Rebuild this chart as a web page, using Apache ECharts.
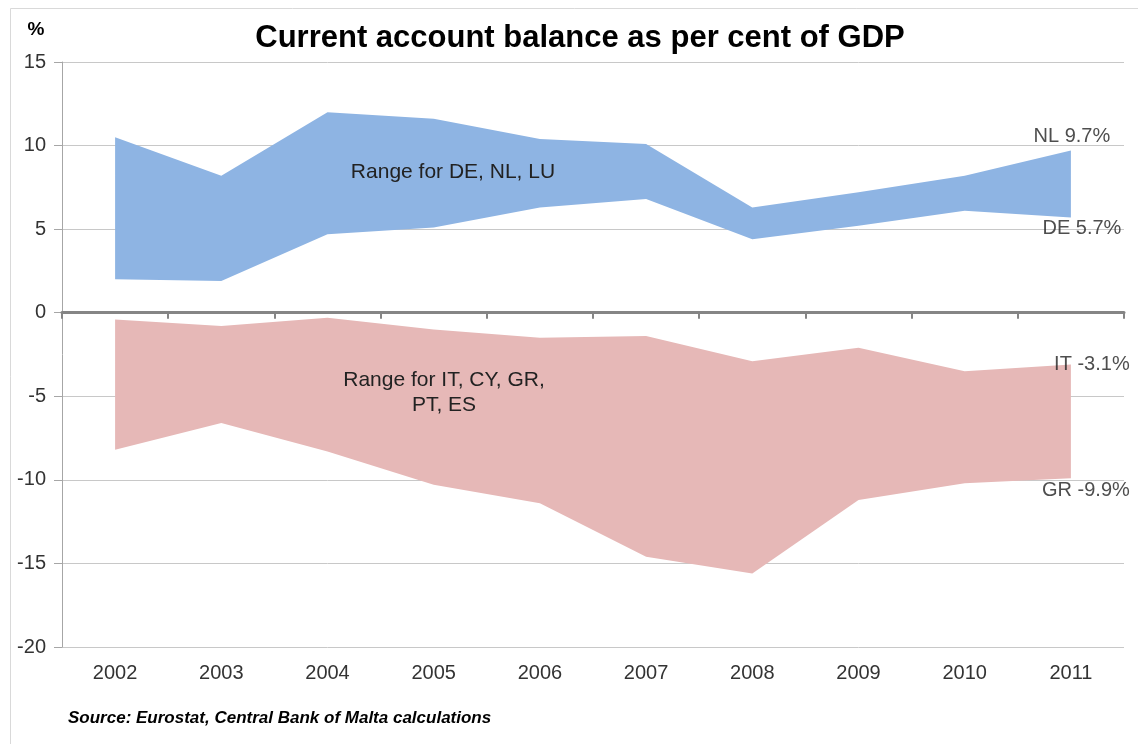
<!DOCTYPE html>
<html>
<head>
<meta charset="utf-8">
<script src="https://cdn.jsdelivr.net/npm/echarts@6/dist/echarts.min.js"></script>
<style>
  html, body { margin: 0; padding: 0; background: #fff; }
  #main { width: 1138px; height: 744px; }
</style>
</head>
<body>
<div id="main"></div>
<script>
// years on the x axis
var years = ['2002', '2003', '2004', '2005', '2006', '2007', '2008', '2009', '2010', '2011'];
// range for DE, NL, LU
var surplusHigh = [10.5, 8.2, 12.0, 11.6, 10.4, 10.1, 6.3, 7.2, 8.2, 9.7];
var surplusLow = [2.0, 1.9, 4.7, 5.1, 6.3, 6.8, 4.4, 5.2, 6.1, 5.7];
// range for IT, CY, GR, PT, ES
var deficitHigh = [-0.4, -0.8, -0.3, -1.0, -1.5, -1.4, -2.9, -2.1, -3.5, -3.1];
var deficitLow = [-8.2, -6.6, -8.3, -10.3, -11.4, -14.6, -15.6, -11.2, -10.2, -9.9];
// end labels
var endNames = ['NL', 'DE', 'IT', 'GR'];
var endValues = [9.7, 5.7, -3.1, -9.9];

var font = 'Liberation Sans, Arial, sans-serif';

var chart = echarts.init(document.getElementById('main'));

// range = top minus bottom, stacked on the bottom line
var surplusRange = surplusHigh.map(function (v, i) { return +(v - surplusLow[i]).toFixed(2); });
var deficitRange = deficitLow.map(function (v, i) { return +(v - deficitHigh[i]).toFixed(2); });

var labelOffsets = [[1, -14], [11, 11], [21, 0], [15, 12]];
var endPoints = endValues.map(function (v, i) {
  return {
    value: [years.length - 1, v],
    label: {
      offset: labelOffsets[i],
      formatter: endNames[i] + ' ' + v.toFixed(1) + '%'
    }
  };
});

var option = {
  backgroundColor: '#fff',
  animation: false,
  textStyle: { fontFamily: font },
  graphic: [
    {
      type: 'rect', z: 0,
      shape: { x: 10.5, y: 8.5, width: 1200, height: 800 },
      style: { fill: 'none', stroke: '#d9d9d9', lineWidth: 1 },
      silent: true
    },
    {
      type: 'text', z: 100,
      style: {
        x: 580, y: 38, text: 'Current account balance as per cent of GDP',
        font: 'bold 31px ' + font, fill: '#000', align: 'center', verticalAlign: 'middle'
      }
    },
    {
      type: 'text', z: 100,
      style: { x: 36, y: 30, text: '%', font: 'bold 19px ' + font, fill: '#000', align: 'center', verticalAlign: 'middle' }
    },
    {
      type: 'text', z: 100,
      style: {
        x: 453, y: 172, text: 'Range for DE, NL, LU', font: '21px ' + font, fill: '#222',
        align: 'center', verticalAlign: 'middle'
      }
    },
    {
      type: 'text', z: 100,
      style: {
        x: 444, y: 393, text: 'Range for IT, CY, GR,\nPT, ES', font: '21px ' + font, fill: '#222',
        align: 'center', verticalAlign: 'middle', lineHeight: 25
      }
    },
    {
      type: 'text', z: 100,
      style: {
        x: 68, y: 718, text: 'Source: Eurostat, Central Bank of Malta calculations',
        font: 'italic bold 17px ' + font, fill: '#000', verticalAlign: 'middle'
      }
    }
  ],
  grid: { left: 62, right: 14, top: 62, bottom: 97 },
  xAxis: [
    {
      type: 'category',
      data: years,
      position: 'bottom',
      boundaryGap: true,
      axisLine: { show: false, onZero: false },
      axisTick: { show: false },
      axisLabel: { fontSize: 20, color: '#333', margin: 16 },
      splitLine: { show: false }
    },
    {
      type: 'category',
      data: years,
      position: 'bottom',
      boundaryGap: true,
      axisLine: { show: true, onZero: true, lineStyle: { color: '#858585', width: 3 } },
      axisTick: { show: true, length: 6, lineStyle: { color: '#858585', width: 2 } },
      axisLabel: { show: false },
      splitLine: { show: false },
      z: 5
    }
  ],
  yAxis: {
    type: 'value',
    min: -20,
    max: 15,
    interval: 5,
    axisLine: { show: true, lineStyle: { color: '#a6a6a6', width: 1 } },
    axisTick: { show: true, length: 8, lineStyle: { color: '#a6a6a6' } },
    axisLabel: { fontSize: 20, color: '#333', margin: 16 },
    splitLine: { show: true, lineStyle: { color: '#c8c8c8', width: 1 } }
  },
  series: [
    {
      name: 'surplus base', type: 'line', stack: 'surplus',
      data: surplusLow, symbol: 'none', silent: true,
      lineStyle: { width: 0, opacity: 0 }
    },
    {
      name: 'Range for DE, NL, LU', type: 'line', stack: 'surplus',
      data: surplusRange, symbol: 'none', silent: true,
      lineStyle: { width: 0, opacity: 0 },
      areaStyle: { color: '#8eb4e3', opacity: 1 }
    },
    {
      name: 'deficit base', type: 'line', stack: 'deficit',
      data: deficitHigh, symbol: 'none', silent: true,
      lineStyle: { width: 0, opacity: 0 }
    },
    {
      name: 'Range for IT, CY, GR, PT, ES', type: 'line', stack: 'deficit',
      data: deficitRange, symbol: 'none', silent: true,
      lineStyle: { width: 0, opacity: 0 },
      areaStyle: { color: '#e6b8b7', opacity: 1 }
    },
    {
      name: 'end labels', type: 'scatter',
      data: endPoints, symbolSize: 0, silent: true, z: 10,
      label: {
        show: true, position: 'inside', fontSize: 20, color: '#222'
      }
    }
  ]
};

chart.setOption(option);
</script>
</body>
</html>
